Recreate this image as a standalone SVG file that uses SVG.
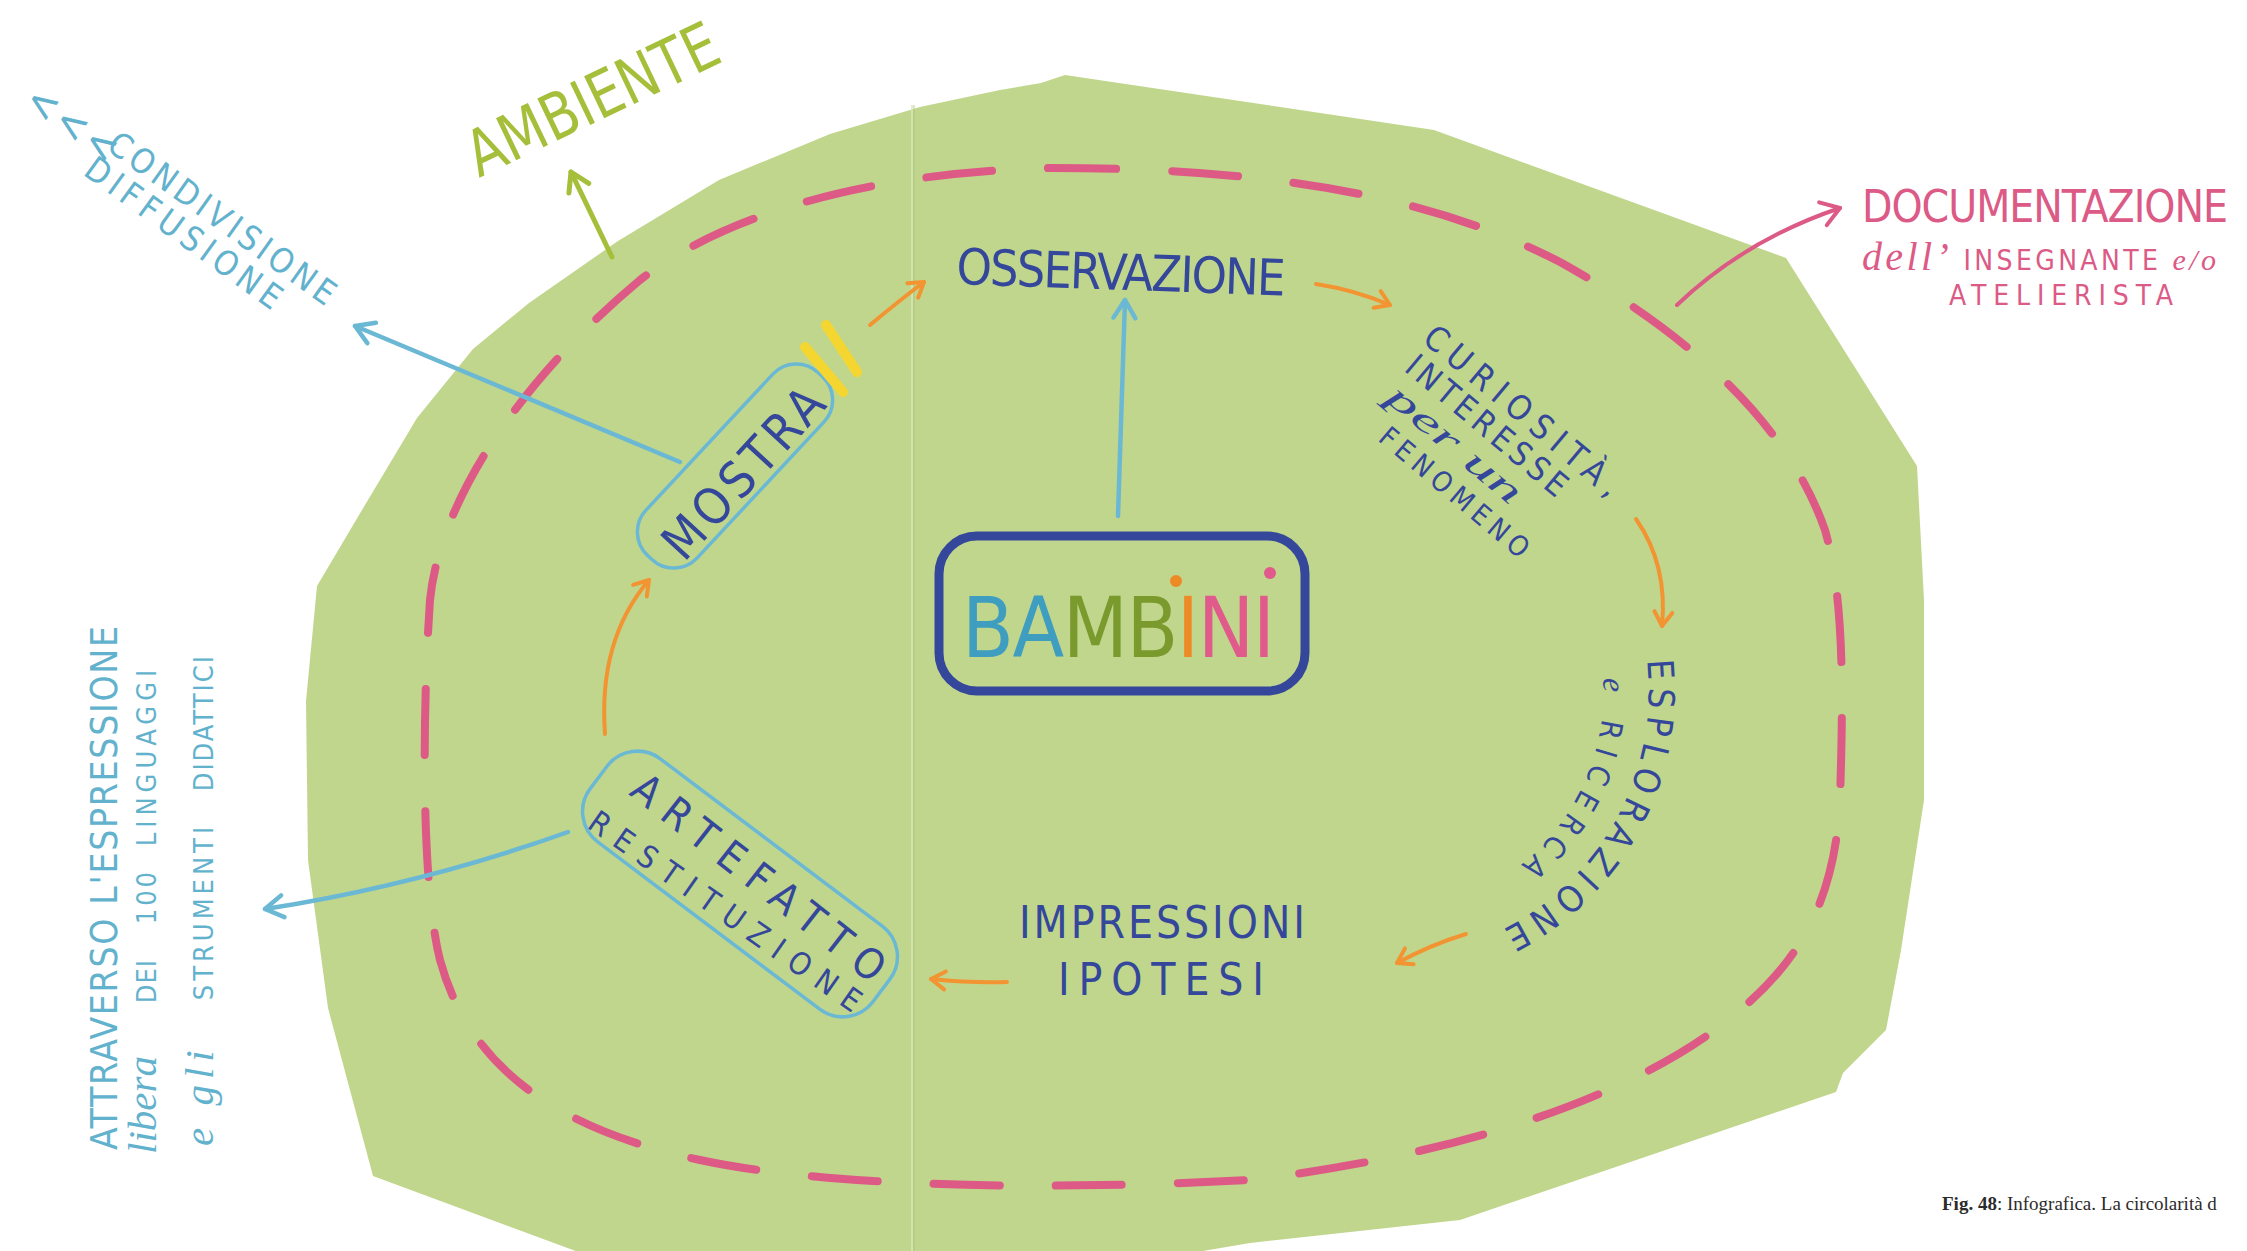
<svg xmlns="http://www.w3.org/2000/svg" width="2247" height="1251" viewBox="0 0 2247 1251">
<style>
.hand{font-family:"DejaVu Sans Condensed","Liberation Sans Narrow","DejaVu Sans","Liberation Sans",sans-serif;}
.script{font-family:"Liberation Serif",serif;font-style:italic;}
.navy{fill:#34479b;}
.lblue{fill:#62b2ce;}
.pinkt{fill:#dc5a86;}
.box{fill:none;stroke:#6bb8d4;stroke-width:3.5;}
.c-or{fill:none;stroke:#f39433;stroke-width:4;stroke-linecap:round;}
.c-bl{fill:none;stroke:#6bb8d4;stroke-width:4.5;stroke-linecap:round;}
.c-gr{fill:none;stroke:#a6bf3b;stroke-width:5;stroke-linecap:round;}
.c-pk{fill:none;stroke:#dc5a86;stroke-width:4;stroke-linecap:round;}
</style>
<defs>
<marker id="mo" viewBox="-20 -12 24 24" refX="0" refY="0" markerWidth="24" markerHeight="24" markerUnits="userSpaceOnUse" orient="auto"><path d="M-14,-9 L0,0 L-14,9" fill="none" stroke="#f39433" stroke-width="4" stroke-linecap="round" stroke-linejoin="round"/></marker>
<marker id="mb" viewBox="-24 -15 28 30" refX="0" refY="0" markerWidth="28" markerHeight="30" markerUnits="userSpaceOnUse" orient="auto"><path d="M-18,-11 L0,0 L-18,11" fill="none" stroke="#6bb8d4" stroke-width="4.5" stroke-linecap="round" stroke-linejoin="round"/></marker>
<marker id="mg" viewBox="-24 -15 28 30" refX="0" refY="0" markerWidth="28" markerHeight="30" markerUnits="userSpaceOnUse" orient="auto"><path d="M-18,-11 L0,0 L-18,11" fill="none" stroke="#a6bf3b" stroke-width="5" stroke-linecap="round" stroke-linejoin="round"/></marker>
<marker id="mp" viewBox="-24 -15 28 30" refX="0" refY="0" markerWidth="28" markerHeight="30" markerUnits="userSpaceOnUse" orient="auto"><path d="M-18,-12 L0,0 L-18,12" fill="none" stroke="#dc5a86" stroke-width="4" stroke-linecap="round" stroke-linejoin="round"/></marker>
<path id="arcEsp" d="M1647,660 A269,269 0 0 1 1492,935"/>
<path id="arcRic" d="M1603,678 A223,223 0 0 1 1500,880"/>
</defs>
<rect width="2247" height="1251" fill="#ffffff"/>
<g id="background">
<polygon points="1065,75 1434,130 1786,258 1917,466 1924,600 1924,800 1901,950 1886,1030 1843,1073 1836,1092 1460,1220 1250,1243 1150,1260 600,1260 373,1176 328,1008 308,860 306,701 317,586 362,510 417,418 473,349 529,303 618,241 719,180 830,134 920,107 1000,90 1041,83" fill="#c0d68c"/>
<line x1="912" y1="105" x2="912" y2="1251" stroke="#d9e7b8" stroke-width="1.5"/>
<line x1="914" y1="105" x2="914" y2="1251" stroke="#a9bf80" stroke-width="0.8"/>
<path d="M1050,168 C1250,168 1420,190 1560,262 C1700,340 1790,430 1825,530 C1845,600 1843,700 1840,800 C1835,900 1800,960 1740,1010 C1660,1080 1500,1150 1250,1180 C1100,1188 850,1192 700,1160 C560,1130 470,1070 440,960 C420,880 423,700 430,600 C440,500 520,380 640,280 C730,210 880,172 1050,168 Z" fill="none" stroke="#dd5a86" stroke-width="8" stroke-dasharray="66 56" stroke-linecap="round"/>
</g>
<g id="connectors">
<path class="c-or" d="M870,325 Q900,300 924,282" marker-end="url(#mo)"/>
<path class="c-or" d="M1316,284 Q1355,290 1390,305" marker-end="url(#mo)"/>
<path class="c-or" d="M1636,519 Q1668,565 1662,626" marker-end="url(#mo)"/>
<path class="c-or" d="M1466,934 Q1430,945 1397,963" marker-end="url(#mo)"/>
<path class="c-or" d="M1007,982 Q970,983 931,979" marker-end="url(#mo)"/>
<path class="c-or" d="M605,734 Q598,640 649,580" marker-end="url(#mo)"/>
<path class="c-bl" d="M1118,516 L1125,300" marker-end="url(#mb)"/>
<path class="c-bl" d="M680,462 L355,326" marker-end="url(#mb)"/>
<path class="c-bl" d="M568,832 Q420,885 265,909" marker-end="url(#mb)"/>
<path class="c-gr" d="M612,257 L571,172" marker-end="url(#mg)"/>
<path class="c-pk" d="M1677,305 Q1745,240 1840,208" marker-end="url(#mp)"/>
</g>
<g id="ambiente">
<text class="hand" x="0" y="0" font-size="64" fill="#a6bf3b" textLength="272" lengthAdjust="spacingAndGlyphs" transform="translate(479,178) rotate(-25.5)">AMBIENTE</text>
</g>
<g id="condivisione">
<text class="hand lblue" x="0" y="0" font-size="42" letter-spacing="4" transform="translate(22,106) rotate(35)">&lt;&lt;&lt;</text>
<text class="hand lblue" x="0" y="0" font-size="34" textLength="271" transform="translate(105,149) rotate(35.6)">CONDIVISIONE</text>
<text class="hand lblue" x="0" y="0" font-size="34" textLength="234" transform="translate(82,174) rotate(35.8)">DIFFUSIONE</text>
</g>
<g id="documentazione">
<text class="hand pinkt" x="1862" y="222" font-size="44" textLength="366">DOCUMENTAZIONE</text>
<text class="hand pinkt" x="1862" y="270" font-size="28" textLength="354"><tspan class="script" font-size="40">dell’</tspan> INSEGNANTE <tspan class="script" font-size="30">e/o</tspan></text>
<text class="hand pinkt" x="1949" y="305" font-size="28" textLength="224">ATELIERISTA</text>
</g>
<g id="attraverso">
<text class="hand lblue" x="0" y="0" font-size="37" textLength="524" transform="translate(117,1150) rotate(-90)">ATTRAVERSO L'ESPRESSIONE</text>
<text class="hand lblue" x="0" y="0" font-size="27" transform="translate(156,1154) rotate(-90)"><tspan class="script" font-size="41" x="0">libera</tspan><tspan x="142" letter-spacing="1"> DEI</tspan><tspan x="219" letter-spacing="3"> 100</tspan><tspan x="295" letter-spacing="5"> LINGUAGGI</tspan></text>
<text class="hand lblue" x="0" y="0" font-size="27" transform="translate(213,1146) rotate(-90)"><tspan class="script" font-size="41" x="0" letter-spacing="6">e gli</tspan><tspan x="134" letter-spacing="4"> STRUMENTI</tspan><tspan x="345" letter-spacing="2"> DIDATTICI</tspan></text>
</g>
<g id="osservazione">
<text class="hand navy" x="956" y="284" font-size="50" textLength="329" transform="rotate(2 956 284)">OSSERVAZIONE</text>
</g>
<g id="curiosita">
<text class="hand navy" x="0" y="0" font-size="34" textLength="245" transform="translate(1421,341) rotate(40)">CURIOSITÀ,</text>
<text class="hand navy" x="0" y="0" font-size="33" textLength="200" transform="translate(1403,370) rotate(40)">INTERESSE</text>
<text class="script navy" x="0" y="0" font-size="36" textLength="165" lengthAdjust="spacingAndGlyphs" transform="translate(1384,400) rotate(40)">per un</text>
<text class="hand navy" x="0" y="0" font-size="28" textLength="186" transform="translate(1377,440) rotate(40)">FENOMENO</text>
</g>
<g id="esplorazione">
<text class="hand navy" font-size="36" letter-spacing="7"><textPath href="#arcEsp">ESPLORAZIONE</textPath></text>
<text class="hand navy" font-size="30" letter-spacing="9"><textPath href="#arcRic"><tspan class="script" font-size="32">e</tspan> RICERCA</textPath></text>
</g>
<g id="impressioni">
<text class="hand navy" x="1019" y="938" font-size="44" textLength="286">IMPRESSIONI</text>
<text class="hand navy" x="1058" y="995" font-size="44" textLength="206">IPOTESI</text>
</g>
<g id="artefatto">
<rect class="box" x="-177" y="-52" width="354" height="104" rx="38" transform="translate(740,884) rotate(37)"/>
<text class="hand navy" x="0" y="0" font-size="42" textLength="309" transform="translate(628,794) rotate(38)">ARTEFATTO</text>
<text class="hand navy" x="0" y="0" font-size="31" textLength="325" transform="translate(586,827) rotate(35)">RESTITUZIONE</text>
</g>
<g id="mostra">
<rect class="box" x="-125" y="-35" width="250" height="70" rx="32" transform="translate(735,466) rotate(-47)"/>
<text class="hand navy" x="0" y="0" font-size="50" textLength="213" transform="translate(684,563) rotate(-47.4)">MOSTRA</text>
<line x1="805" y1="347" x2="843" y2="392" stroke="#f5d630" stroke-width="10" stroke-linecap="round"/>
<line x1="826" y1="325" x2="857" y2="372" stroke="#f5d630" stroke-width="10" stroke-linecap="round"/>
</g>
<g id="bambini">
<rect x="939" y="536" width="366" height="155" rx="38" fill="none" stroke="#34479b" stroke-width="9"/>
<text class="hand" x="962" y="657" font-size="84" textLength="313"><tspan fill="#3f9ec0">BA</tspan><tspan fill="#7b9a2d">MB</tspan><tspan fill="#ee8a26">I</tspan><tspan fill="#e05b8b">NI</tspan></text>
<circle cx="1176" cy="581" r="6" fill="#ee8a26"/>
<circle cx="1270" cy="573" r="6" fill="#e05b8b"/>
</g>
<g id="caption">
<text x="1942" y="1210" font-family="Liberation Serif, serif" font-size="19" fill="#2b2b2b"><tspan font-weight="bold">Fig. 48</tspan>: Infografica. La circolarità d</text>
</g>
</svg>
